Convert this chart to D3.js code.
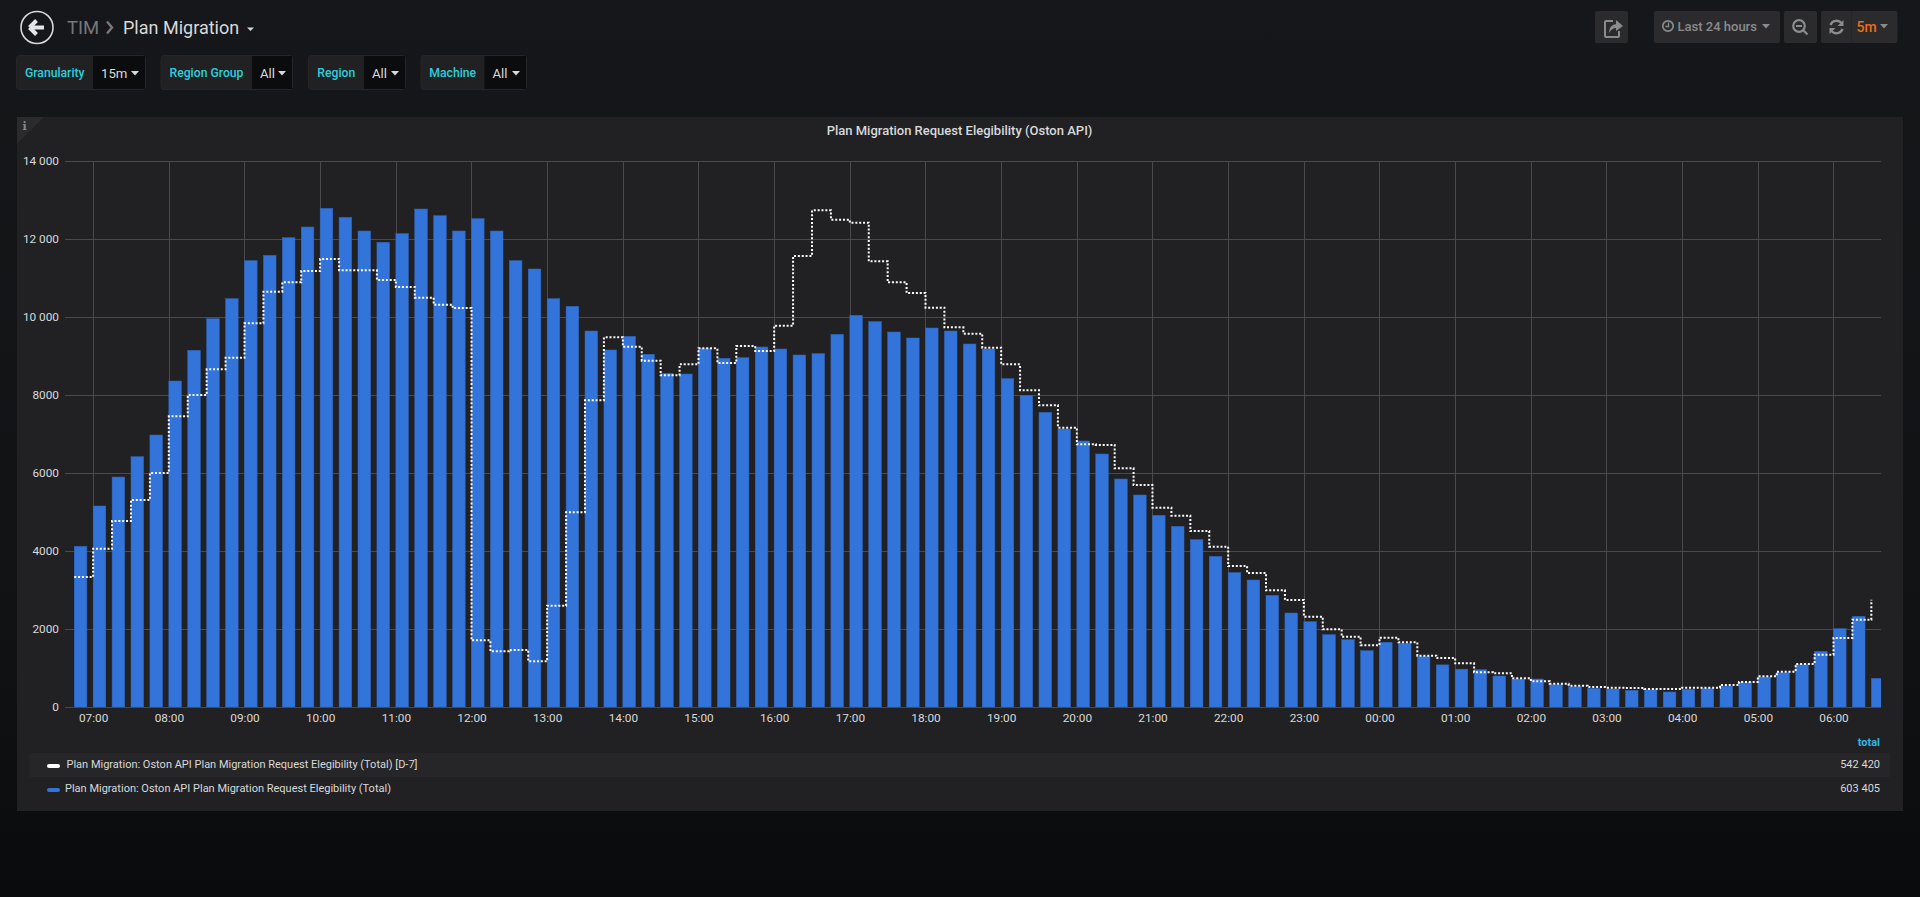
<!DOCTYPE html>
<html>
<head>
<meta charset="utf-8">
<title>Plan Migration</title>
<script src="https://cdn.jsdelivr.net/npm/d3@7"></script>
<style>
  html, body { margin: 0; padding: 0; background: #0b0c0e; overflow: hidden; }
  svg { display: block; }
  text { font-family: Roboto, sans-serif; }
  .axis path { display: none; }
  .axis text { fill: #d8d9da; font-size: 11.8px; font-family: Roboto, sans-serif; }
  .grid path { display: none; }
  .grid line { stroke: #4a4a4c; stroke-width: 1; shape-rendering: crispEdges; }
</style>
</head>
<body>
<div id="d3-container"></div>
<script>
// values, one per 15m bucket, first bucket = 06:45
const currentValues = [
  4120, 5154, 5897, 6419, 6974, 8359, 9145, 9957, 10470, 11444, 11581, 12034,
  12308, 12786, 12556, 12205, 11915, 12137, 12769, 12598, 12205, 12521, 12205, 11444,
  11231, 10470, 10274, 9641, 9154, 9504, 9043, 8556, 8538, 9197, 8940, 8957,
  9231, 9179, 9026, 9060, 9556, 10043, 9880, 9615, 9462, 9718, 9641, 9308,
  9179, 8419, 7991, 7556, 7128, 6821, 6487, 5846, 5436, 4915, 4632, 4291,
  3863, 3444, 3256, 2863, 2410, 2188, 1855, 1726, 1444, 1658, 1632, 1299,
  1080, 970, 957, 795, 718, 718, 573, 521, 479, 462, 427, 444,
  385, 453, 479, 538, 632, 769, 880, 1085, 1427, 2009, 2325, 735
];
const previousValues = [
  3333, 4060, 4769, 5308, 6000, 7453, 8000, 8658, 8957, 9838, 10650, 10889,
  11179, 11487, 11197, 11197, 10949, 10769, 10496, 10316, 10231, 1709, 1427, 1462,
  1171, 2598, 4991, 7863, 9479, 9239, 8880, 8504, 8786, 9197, 8821, 9256,
  9128, 9778, 11564, 12735, 12496, 12419, 11427, 10889, 10615, 10239, 9735, 9573,
  9214, 8786, 8120, 7735, 7162, 6735, 6718, 6120, 5692, 5111, 4906, 4513,
  4111, 3615, 3436, 2991, 2744, 2316, 1991, 1803, 1581, 1778, 1658, 1316,
  1256, 1120, 889, 863, 735, 658, 598, 547, 513, 496, 487, 462,
  462, 496, 496, 564, 641, 786, 906, 1103, 1342, 1769, 2239, 2752
];
const yTicks = [0, 2000, 4000, 6000, 8000, 10000, 12000, 14000];
const yTickLabels = ["0", "2000", "4000", "6000", "8000", "10 000", "12 000", "14 000"];
const legendNames = [
  "Plan Migration: Oston API Plan Migration Request Elegibility (Total) [D-7]",
  "Plan Migration: Oston API Plan Migration Request Elegibility (Total)"
];
const legendTotals = ["542 420", "603 405"];
const legendColors = ["#ffffff", "#3274d9"];
const variableNames = ["Granularity", "Region Group", "Region", "Machine"];
const variableValues = ["15m", "All", "All", "All"];

const width = 1920,
  height = 897,
  margin = { top: 161, bottom: 190, left: 65, right: 39 };

const bucketStart = new Date(2019, 0, 7, 6, 45);
const bucketTimes = currentValues.map((d, i) => d3.timeMinute.offset(bucketStart, i * 15));

const svg = d3.select("#d3-container")
  .append("svg")
  .attr("width", width)
  .attr("height", height);

const defs = svg.append("defs");
const bgGrad = defs.append("linearGradient")
  .attr("id", "bg")
  .attr("x1", 0).attr("y1", 0).attr("x2", 0).attr("y2", 1);
bgGrad.append("stop").attr("offset", "0%").attr("stop-color", "#16171a");
bgGrad.append("stop").attr("offset", "70%").attr("stop-color", "#111214");
bgGrad.append("stop").attr("offset", "100%").attr("stop-color", "#0a0b0d");

svg.append("rect").attr("width", width).attr("height", height).attr("fill", "url(#bg)");

// ---- header ----
const header = svg.append("g");
header.append("circle")
  .attr("cx", 37).attr("cy", 27.5).attr("r", 16)
  .attr("fill", "none").attr("stroke", "#d8d9da").attr("stroke-width", 1.6);
header.append("path")
  .attr("d", "M29.5 27.5 L36.5 20.5 M29.5 27.5 L36.5 34.5 M30.5 27.5 L44 27.5")
  .attr("fill", "none").attr("stroke", "#e4e5e6").attr("stroke-width", 4);
header.append("text")
  .attr("x", 67).attr("y", 33.5).attr("font-size", 18.5).attr("fill", "#77787a").text("TIM");
header.append("path")
  .attr("d", "M107 21.5 L112 27.5 L107 33.5")
  .attr("fill", "none").attr("stroke", "#77787a").attr("stroke-width", 2.4);
header.append("text")
  .attr("x", 123).attr("y", 33.5).attr("font-size", 18).attr("fill", "#d8d9da").text("Plan Migration");
header.append("path").attr("d", "M247 27.5 L254 27.5 L250.5 31 Z").attr("fill", "#d8d9da");

// ---- variable row ----
const varGroups = [[16.5, 93, 145.5], [161, 252, 292.5], [308.5, 364, 405.5], [421, 484.5, 526.5]];
const vars = svg.append("g").selectAll("g")
  .data(variableNames)
  .join("g");
vars.append("rect")
  .attr("x", (d, i) => varGroups[i][0]).attr("y", 55.5)
  .attr("width", (d, i) => varGroups[i][2] - varGroups[i][0]).attr("height", 34)
  .attr("rx", 3)
  .attr("fill", "#212124").attr("stroke", "#262628");
vars.append("rect")
  .attr("x", (d, i) => varGroups[i][1]).attr("y", 56)
  .attr("width", (d, i) => varGroups[i][2] - varGroups[i][1] - 0.5).attr("height", 33)
  .attr("fill", "#0b0c0e");
vars.append("text")
  .attr("x", (d, i) => (varGroups[i][0] + varGroups[i][1]) / 2).attr("y", 77)
  .attr("text-anchor", "middle")
  .attr("font-size", 12.2).attr("font-weight", 500).attr("fill", "#2bcfdc")
  .text(d => d);
vars.append("text")
  .attr("x", (d, i) => varGroups[i][1] + 8).attr("y", 78)
  .attr("font-size", 13.2).attr("fill", "#d8d9da")
  .text((d, i) => variableValues[i]);
vars.append("path")
  .attr("d", (d, i) => {
    const cx = varGroups[i][2] - 10.5;
    return `M${cx - 4} 71 L${cx + 4} 71 L${cx} 75.5 Z`;
  })
  .attr("fill", "#d8d9da");

// ---- top right buttons ----
const btnFill = "#2b2b2e";
const buttons = [[1595, 1628], [1654, 1780], [1784, 1817], [1821, 1897.5]];
svg.append("g").selectAll("rect")
  .data(buttons)
  .join("rect")
  .attr("x", d => d[0]).attr("y", 11)
  .attr("width", d => d[1] - d[0]).attr("height", 32)
  .attr("rx", 2)
  .attr("fill", btnFill);
svg.append("line")
  .attr("x1", 1851.5).attr("x2", 1851.5).attr("y1", 11).attr("y2", 43)
  .attr("stroke", "#252527");
const iconColor = "#8a8b8d";
// share
svg.append("path")
  .attr("d", "M1613 21 L1606 21 Q1605 21 1605 22 L1605 36 Q1605 37 1606 37 L1618 37 Q1619 37 1619 36 L1619 31")
  .attr("fill", "none").attr("stroke", iconColor).attr("stroke-width", 2);
svg.append("path")
  .attr("d", "M1609 33 Q1609 25 1616 24 L1616 20 L1623 26 L1616 31 L1616 28 Q1612 28 1609 33 Z")
  .attr("fill", iconColor);
// clock
svg.append("circle").attr("cx", 1668).attr("cy", 26).attr("r", 5.2)
  .attr("fill", "none").attr("stroke", iconColor).attr("stroke-width", 1.7);
svg.append("path").attr("d", "M1668.5 22.5 L1668.5 26.5 L1665.5 26.5")
  .attr("fill", "none").attr("stroke", iconColor).attr("stroke-width", 1.3);
svg.append("text")
  .attr("x", 1677.5).attr("y", 31).attr("font-size", 13).attr("font-weight", 500).attr("fill", iconColor)
  .text("Last 24 hours");
svg.append("path").attr("d", "M1762 24 L1770 24 L1766 28.5 Z").attr("fill", iconColor);
// zoom out
svg.append("circle").attr("cx", 1799).attr("cy", 26).attr("r", 5.8)
  .attr("fill", "none").attr("stroke", iconColor).attr("stroke-width", 2.2);
svg.append("path").attr("d", "M1796 26 L1802 26 M1803.5 30.5 L1807.5 34.5")
  .attr("fill", "none").attr("stroke", iconColor).attr("stroke-width", 2.2);
// refresh
svg.append("path")
  .attr("d", "M1830.5 25 A6.5 6.5 0 0 1 1841.5 23 M1842.5 29 A6.5 6.5 0 0 1 1831.5 31")
  .attr("fill", "none").attr("stroke", iconColor).attr("stroke-width", 2.4);
svg.append("path").attr("d", "M1843.5 20 L1843.5 26 L1837.5 26 Z M1829.5 34 L1829.5 28 L1835.5 28 Z").attr("fill", iconColor);
svg.append("text")
  .attr("x", 1856.5).attr("y", 31.5).attr("font-size", 14).attr("font-weight", 500).attr("fill", "#ef6c17")
  .text("5m");
svg.append("path").attr("d", "M1880 24 L1888 24 L1884 28.5 Z").attr("fill", iconColor);

// ---- panel ----
svg.append("rect")
  .attr("x", 17).attr("y", 117).attr("width", 1886).attr("height", 694)
  .attr("fill", "#212124");
svg.append("path").attr("d", "M17 117 L44 117 L17 144 Z").attr("fill", "#2b2b2e");
svg.append("text")
  .attr("x", 24.5).attr("y", 129.5).attr("text-anchor", "middle")
  .style("font-family", "DejaVu Serif")
  .attr("font-size", 11).attr("font-weight", 700).attr("fill", "#8a8b8d").text("i");
svg.append("text")
  .attr("x", 959.5).attr("y", 135).attr("text-anchor", "middle")
  .attr("font-size", 13).attr("font-weight", 500).attr("fill", "#d8d9da")
  .text("Plan Migration Request Elegibility (Oston API)");

// ---- chart ----
const xScale = d3.scaleTime()
  .domain([new Date(2019, 0, 7, 6, 37, 40), new Date(2019, 0, 8, 6, 37, 40)])
  .range([margin.left, width - margin.right]);

const yScale = d3.scaleLinear()
  .domain([0, 14000])
  .range([height - margin.bottom, margin.top]);

const hourTicks = d3.timeHour.range(new Date(2019, 0, 7, 7), new Date(2019, 0, 8, 6, 30));

svg.append("g")
  .attr("class", "grid")
  .attr("transform", `translate(0, ${height - margin.bottom})`)
  .call(d3.axisBottom(xScale).tickValues(hourTicks).tickSize(-(height - margin.top - margin.bottom)).tickFormat(""));
svg.append("g")
  .attr("class", "grid")
  .attr("transform", `translate(${margin.left}, 0)`)
  .call(d3.axisLeft(yScale).tickValues(yTicks).tickSize(-(width - margin.left - margin.right)).tickFormat(""));

const bucketWidth = xScale(bucketTimes[1]) - xScale(bucketTimes[0]);
const barWidth = bucketWidth * 2 / 3;

defs.append("clipPath").attr("id", "plot")
  .append("rect")
  .attr("x", margin.left).attr("y", margin.top)
  .attr("width", width - margin.left - margin.right)
  .attr("height", height - margin.top - margin.bottom);

svg.append("g")
  .attr("clip-path", "url(#plot)")
  .selectAll("rect")
  .data(currentValues)
  .join("rect")
  .attr("x", (d, i) => xScale(bucketTimes[i]))
  .attr("y", d => yScale(d))
  .attr("width", barWidth)
  .attr("height", d => yScale(0) - yScale(d))
  .attr("fill", "#3274d9")
  .attr("stroke", "#2f66bd")
  .attr("stroke-width", 0.5);

const stepLine = d3.line()
  .x((d, i) => xScale(bucketTimes[i]))
  .y(d => yScale(d))
  .curve(d3.curveStepAfter);

svg.append("path")
  .attr("d", stepLine(previousValues))
  .attr("fill", "none")
  .attr("stroke", "#ffffff")
  .attr("stroke-width", 2)
  .attr("stroke-dasharray", "2 1.85");

const xAxisGroup = svg.append("g")
  .attr("class", "axis")
  .attr("transform", `translate(0, ${height - margin.bottom})`)
  .call(d3.axisBottom(xScale).tickValues(hourTicks).tickSize(0).tickPadding(7).tickFormat(d3.timeFormat("%H:%M")));
xAxisGroup.selectAll("line").remove();

const yAxisGroup = svg.append("g")
  .attr("class", "axis")
  .attr("transform", `translate(${margin.left}, 0)`)
  .call(d3.axisLeft(yScale).tickValues(yTicks).tickSize(0).tickPadding(6).tickFormat((d, i) => yTickLabels[i]));
yAxisGroup.selectAll("line").remove();

// ---- legend ----
svg.append("text")
  .attr("x", 1880).attr("y", 746).attr("text-anchor", "end")
  .attr("font-size", 11).attr("font-weight", 700).attr("fill", "#33b5e5")
  .text("total");
svg.append("rect")
  .attr("x", 29.5).attr("y", 753).attr("width", 1860.5).attr("height", 24)
  .attr("fill", "#262628");

const legendRows = svg.append("g").selectAll("g")
  .data(legendNames)
  .join("g")
  .attr("transform", (d, i) => `translate(0, ${764 + i * 24})`);
legendRows.append("rect")
  .attr("x", 47).attr("y", 0).attr("width", 13).attr("height", 4).attr("rx", 2)
  .attr("fill", (d, i) => legendColors[i]);
legendRows.append("text")
  .attr("x", (d, i) => i == 0 ? 66.5 : 65).attr("y", 4)
  .attr("font-size", 11).attr("fill", "#d8d9da")
  .text(d => d);
legendRows.append("text")
  .attr("x", 1880).attr("y", 4).attr("text-anchor", "end")
  .attr("font-size", 11).attr("fill", "#d8d9da")
  .text((d, i) => legendTotals[i]);
</script>
</body>
</html>
